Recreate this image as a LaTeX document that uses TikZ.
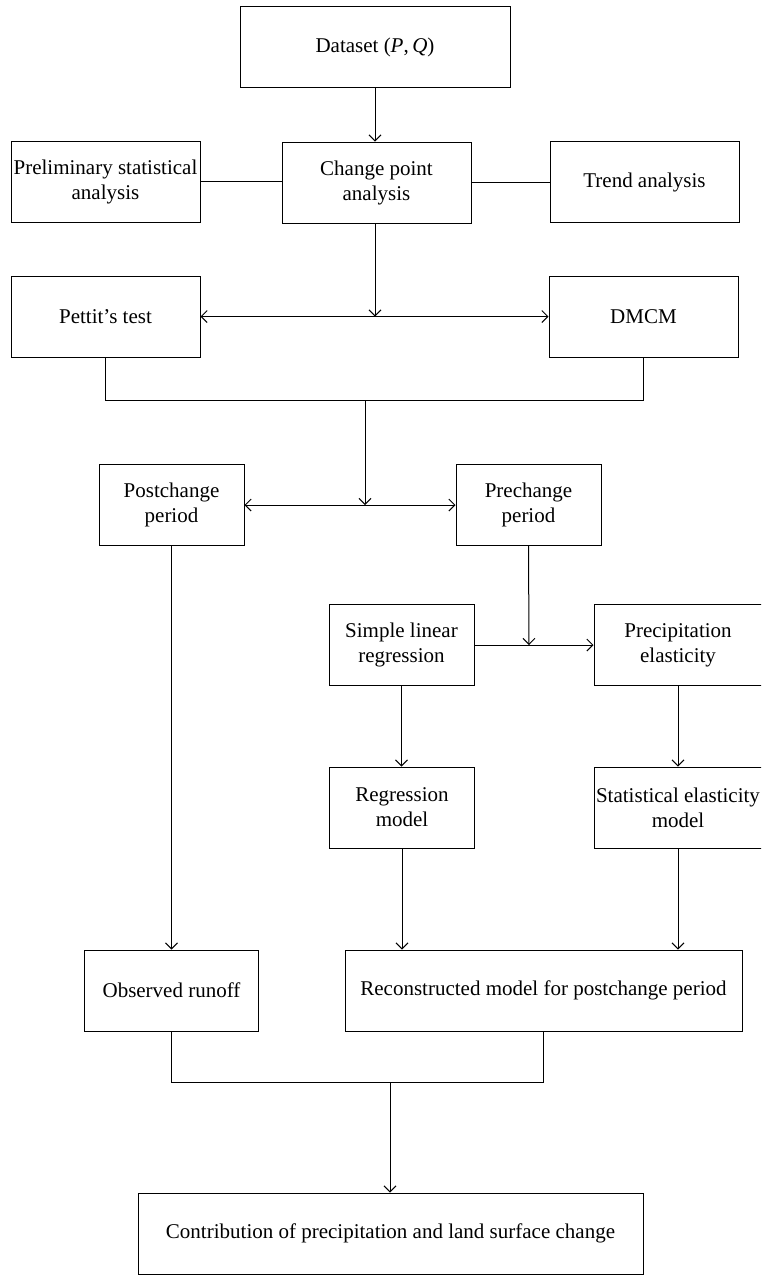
\documentclass[tikz,border=0pt]{standalone}
\usepackage{fontspec}
\setmainfont{Liberation Serif}
\usetikzlibrary{arrows.meta}
\begin{document}
\begin{tikzpicture}[x=1pt,y=-1pt,
  box/.style={draw, line width=1pt, align=center, inner sep=0pt,
    font=\fontsize{21}{25}\selectfont, minimum height=81pt},
  ln/.style={line width=1pt},
  tip/.tip={Straight Barb[length=6pt,width=12pt,line width=1pt]},
  arr/.style={ln, -tip},
  darr/.style={ln, tip-tip}]
\useasboundingbox (0,0) rectangle (761,1275);
\clip (0,0) rectangle (761,1275);

\node[box, minimum width=270pt] (ds) at (375,47) {Dataset (\textit{P},\,\textit{Q})};
\node[box, minimum width=189pt] (pre) at (105.5,181.5) {Preliminary statistical\\analysis};
\node[box, minimum width=189pt] (cpa) at (376.5,182.5) {Change point\\analysis};
\node[box, minimum width=189pt] (trend) at (644.5,182) {Trend analysis};
\node[box, minimum width=189pt] (pet) at (105.5,316.5) {Pettit’s test};
\node[box, minimum width=189pt] (dmcm) at (643.5,316.5) {DMCM};
\node[box, minimum width=145pt] (post) at (171.5,505) {Postchange\\period};
\node[box, minimum width=145pt] (prech) at (528.5,505) {Prechange\\period};
\node[box, minimum width=145pt] (slr) at (401.5,645) {Simple linear\\regression};
\node[box, minimum width=168pt] (pel) at (678,645) {Precipitation\\elasticity};
\node[box, minimum width=145pt] (rm) at (402,807.5) {Regression\\model};
\node[box, minimum width=168pt] (sem) at (678,807.5) {Statistical elasticity\\model};
\node[box, minimum width=174pt] (obs) at (171.5,990.5) {Observed runoff};
\node[box, minimum width=397pt] (rec) at (543.5,990.5) {Reconstructed model for postchange period};
\node[box, minimum width=505pt] (con) at (390.5,1233.5) {Contribution of precipitation and land surface change};

% junction points
\coordinate (j1) at (375,316.5);
\coordinate (j2) at (365,400);
\coordinate (j3) at (365,505);
\coordinate (j4) at (529,645);
\coordinate (j5) at (390,1082);

\draw[arr] (ds.south) -- (ds.south |- cpa.north);
\draw[ln] (pre.east) -- (cpa.west |- pre.east);
\draw[ln] (cpa.east |- trend.west) -- (trend.west);

\draw[arr] (cpa.south -| j1) -- (j1);
\draw[darr] (pet.east) -- (dmcm.west);

\draw[ln] (pet.south) -- (pet.south |- j2) -- (dmcm.south |- j2) -- (dmcm.south);
\draw[arr] (j2) -- (j3);
\draw[darr] (post.east) -- (prech.west);

\draw[arr] (prech.south) -- (j4);
\draw[arr] (slr.east) -- (pel.west);

\draw[arr] (slr.south) -- (slr.south |- rm.north);
\draw[arr] (pel.south) -- (sem.north);
\draw[arr] (post.south) -- (post.south |- obs.north);
\draw[arr] (rm.south) -- (rm.south |- rec.north);
\draw[arr] (sem.south) -- (sem.south |- rec.north);

\draw[ln] (obs.south) -- (obs.south |- j5) -- (rec.south |- j5) -- (rec.south);
\draw[arr] (j5) -- (j5 |- con.north);
\end{tikzpicture}
\end{document}
